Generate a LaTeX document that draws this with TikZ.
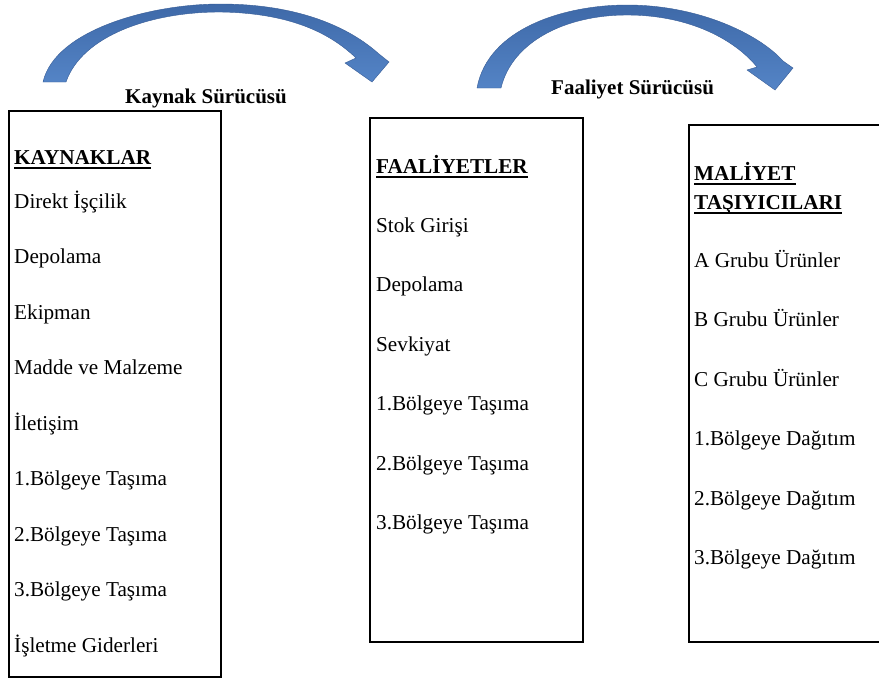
\documentclass[tikz,border=0pt]{standalone}
\usepackage{fontspec}
\setmainfont{Liberation Serif}
\newcommand\myul[1]{\setbox0\hbox{#1}\rlap{\rule[-4.5pt]{\wd0}{1.8pt}}\box0}
\begin{document}
\begin{tikzpicture}[x=1pt,y=-1pt,
  every node/.style={font=\fontsize{21.2}{25}\selectfont, inner sep=0pt},
  item/.style={anchor=base west},
  head/.style={anchor=base west, font=\fontsize{21.2}{25}\selectfont\bfseries},
  lbl/.style={anchor=base west, font=\fontsize{21}{25}\selectfont\bfseries},
  boxframe/.style={draw=black, line width=1.3pt, fill=none},
  bluearrow/.style={top color={rgb,255:red,62;green,105;blue,168}, bottom color={rgb,255:red,84;green,132;blue,198}, draw={rgb,255:red,55;green,92;blue,150}, line width=0.4pt}
]
\useasboundingbox (0,0) rectangle (879,680);

% curved arrows
\shade[bluearrow] (43,82) .. controls (55,30) and (150,4) .. (220,4)
  .. controls (300,4) and (350,28) .. (379,54)
  -- (389,62) -- (372,82) -- (345,63) -- (356,58)
  .. controls (330,33) and (290,13) .. (220,12)
  .. controls (150,12) and (82,36) .. (66,82) -- cycle;
\shade[bluearrow] (477,88) .. controls (488,28) and (565,5) .. (627,5)
  .. controls (700,5) and (760,35) .. (783,61)
  -- (793,68) -- (775,90) -- (747,70) -- (757,67)
  .. controls (735,40) and (690,15) .. (627,15)
  .. controls (565,15) and (512,42) .. (501,88) -- cycle;

\node[lbl] (l1) at (125,103) {Kaynak Sürücüsü};
\node[lbl] (l2) at (551,94) {Faaliyet Sürücüsü};

% boxes
\node[boxframe, minimum width=212pt, minimum height=566pt] (b1) at (115,394) {};
\node[boxframe, minimum width=213pt, minimum height=524pt] (b2) at (476.5,380) {};
\coordinate (b3tr) at (885,125);
\coordinate (b3tl) at (689,125);
\coordinate (b3bl) at (689,642);
\coordinate (b3br) at (885,642);
\draw[black, line width=1.3pt] (b3tr) -- (b3tl) -- (b3bl) -- (b3br);

% box 1
\node[head] (h1) at (14,164) {\myul{KAYNAKLAR}};
\node[item] (a1) at (14,208) {Direkt İşçilik};
\node[item] (a2) at (14,263.5) {Depolama};
\node[item] (a3) at (14,319) {Ekipman};
\node[item] (a4) at (14,374.5) {Madde ve Malzeme};
\node[item] (a5) at (14,430) {İletişim};
\node[item] (a6) at (14,485.5) {1.Bölgeye Taşıma};
\node[item] (a7) at (14,541) {2.Bölgeye Taşıma};
\node[item] (a8) at (14,596.5) {3.Bölgeye Taşıma};
\node[item] (a9) at (14,652) {İşletme Giderleri};

% box 2
\node[head] (h2) at (376,173) {\myul{FAALİYETLER}};
\node[item] (f1) at (376,232) {Stok Girişi};
\node[item] (f2) at (376,291.5) {Depolama};
\node[item] (f3) at (376,351) {Sevkiyat};
\node[item] (f4) at (376,410.5) {1.Bölgeye Taşıma};
\node[item] (f5) at (376,470) {2.Bölgeye Taşıma};
\node[item] (f6) at (376,529.5) {3.Bölgeye Taşıma};

% box 3
\node[head] (h3a) at (694,180) {\myul{MALİYET}};
\node[head] (h3b) at (694,209) {\myul{TAŞIYICILARI}};
\node[item] (m1) at (694,267) {A Grubu Ürünler};
\node[item] (m2) at (694,326.5) {B Grubu Ürünler};
\node[item] (m3) at (694,386) {C Grubu Ürünler};
\node[item] (m4) at (694,445.5) {1.Bölgeye Dağıtım};
\node[item] (m5) at (694,505) {2.Bölgeye Dağıtım};
\node[item] (m6) at (694,564.5) {3.Bölgeye Dağıtım};
\end{tikzpicture}
\end{document}
